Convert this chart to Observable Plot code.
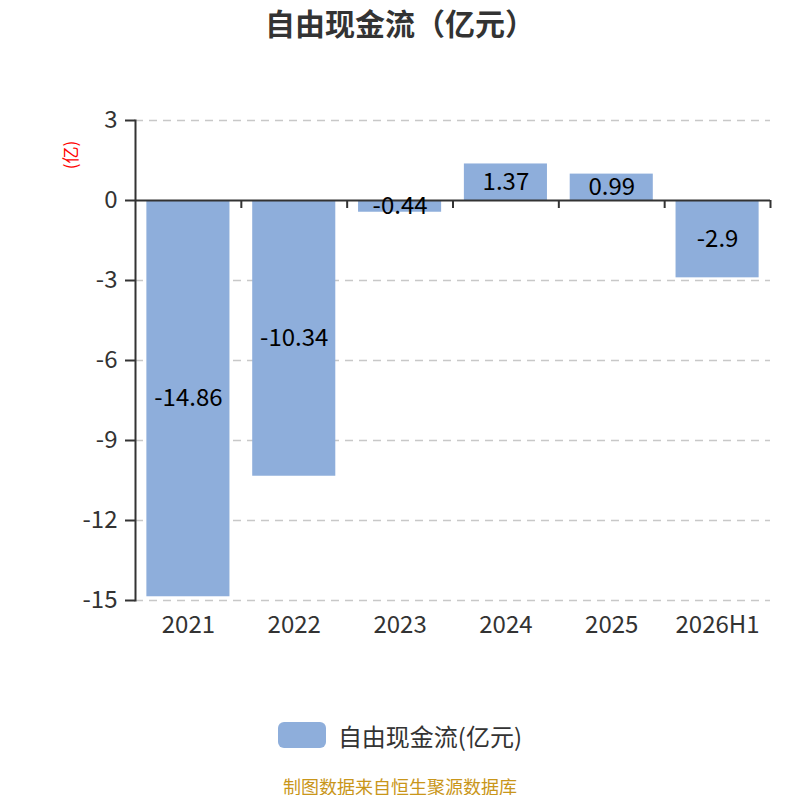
<!DOCTYPE html>
<html>
<head>
<meta charset="utf-8">
<script src="https://cdn.jsdelivr.net/npm/d3@7"></script>
<script src="https://cdn.jsdelivr.net/npm/@observablehq/plot@0.6"></script>
<style>
  html, body { margin: 0; padding: 0; background: #fff; }
  body { width: 800px; font-family: "Noto Sans CJK SC", "Noto Sans", sans-serif; }
  #title { height: 50px; line-height: 44px; text-align: center; font-size: 30px; font-weight: bold; color: #333; }
  #legend { margin-top: 52px; height: 26px; display: flex; justify-content: center; align-items: center; gap: 12px; font-size: 24px; color: #333; }
  #legend .sw { width: 48px; height: 26px; border-radius: 6px; background: #8eaedb; }
  #caption { margin-top: 29px; text-align: center; font-size: 18px; line-height: 18px; color: #c9961a; }
</style>
</head>
<body>
<div id="title">自由现金流（亿元）</div>
<div id="chart"></div>
<div id="legend"><div class="sw"></div><span>自由现金流(亿元)</span></div>
<div id="caption">制图数据来自恒生聚源数据库</div>
<script>
const years = ["2021", "2022", "2023", "2024", "2025", "2026H1"];
const values = [-14.86, -10.34, -0.44, 1.37, 0.99, -2.9];
const yTicks = [3, 0, -3, -6, -9, -12, -15];
const seriesName = "自由现金流(亿元)";

const data = years.map((y, i) => ({year: y, value: values[i]}));

const W = 800, ML = 135, MR = 30;
const halfStep = (W - ML - MR) / years.length / 2;
const font = '"Noto Sans CJK SC", "Noto Sans", sans-serif';

const plot = Plot.plot({
  width: W,
  height: 620,
  marginLeft: ML,
  marginRight: MR,
  marginTop: 70,
  marginBottom: 70,
  style: {fontFamily: font, color: "#333", background: "#fff"},
  x: {domain: years, paddingInner: 0.215, paddingOuter: 0.1075, round: false, label: null},
  y: {domain: [-15, 3], label: null},
  marks: [
    Plot.gridY(yTicks.filter(t => t !== 0), {stroke: "#c8c8c8", strokeOpacity: 1, strokeWidth: 1.5, strokeDasharray: "8,6"}),
    Plot.barY(data, {x: "year", y: "value", fill: "#8eaedb"}),
    Plot.ruleY([0], {stroke: "#333", strokeWidth: 2}),
    Plot.ruleX(years, {x: d => d, y1: 0, y2: -0.3, dx: halfStep, stroke: "#333", strokeWidth: 2}),
    Plot.frame({anchor: "left", stroke: "#333", strokeWidth: 2}),
    Plot.axisY({ticks: yTicks, tickFormat: d => String(d), tickSize: 10, tickPadding: 8, fontSize: 24, stroke: "#333", strokeWidth: 2, label: null}),
    Plot.axisX({tickSize: 0, tickPadding: 15, fontSize: 24, label: null}),
    Plot.text(data, {x: "year", y: d => d.value / 2, text: d => String(d.value), fontSize: 24, fill: "#000"})
  ]
});

d3.select(plot).append("text")
  .attr("transform", "translate(72,105) rotate(-90)")
  .attr("text-anchor", "middle")
  .attr("dominant-baseline", "middle")
  .attr("fill", "red")
  .attr("font-size", 17)
  .attr("font-family", font)
  .text("(亿)");

document.getElementById("chart").appendChild(plot);
</script>
</body>
</html>
